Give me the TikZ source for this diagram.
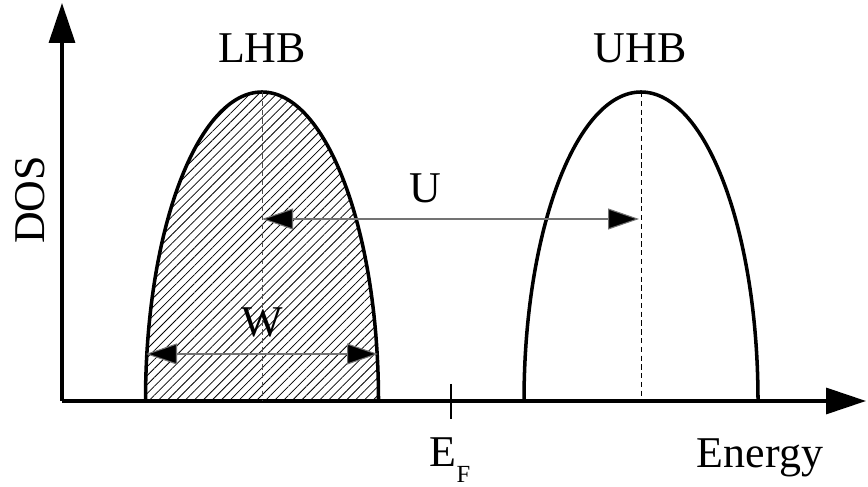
\documentclass[tikz,border=0pt]{standalone}
\usepackage{fontspec}
\setmainfont{Liberation Serif}
\usepackage{tikz}
\usetikzlibrary{arrows.meta, patterns.meta, positioning, calc}

\tikzset{
    axisline/.style={line width=1.9pt, -{Triangle[length=0.8cm, width=0.52cm]}},
    bandline/.style={line width=2pt},
    centerline/.style={line width=0.5pt, dash pattern=on 3pt off 2pt},
    widtharrow/.style={line width=0.6pt, draw=black!55, {Triangle[length=0.62cm, width=0.42cm, fill=black]}-{Triangle[length=0.62cm, width=0.42cm, fill=black]}},
    lbl/.style={font=\fontsize{25}{30}\selectfont, inner sep=0pt}
}

\begin{document}
\begin{tikzpicture}
    \useasboundingbox (-1.24,-1.72) rectangle (16.12,8.02);

    % axes
    \coordinate (O) at (0,0);
    \coordinate (ytop) at (0,7.96);
    \coordinate (xend) at (16.08,0);
    \draw[axisline] (O) -- (ytop);
    \draw[axisline] (O) -- (xend);

    % band positions
    \coordinate (lhbL) at (1.67,0);
    \coordinate (lhbC) at (4.0,0);
    \coordinate (lhbTop) at (4.0,6.18);
    \coordinate (uhbL) at (9.24,0);
    \coordinate (uhbC) at (11.58,0);
    \coordinate (uhbTop) at (11.58,6.18);

    % Lower Hubbard band (filled)
    \fill[pattern={Lines[angle=45, distance=3.6pt, line width=0.45pt]}]
        (lhbL) arc[start angle=180, end angle=0, x radius=2.33, y radius=6.18] -- cycle;
    \draw[bandline] (lhbL) arc[start angle=180, end angle=0, x radius=2.33, y radius=6.18];
    \draw[centerline, draw=black!70] (lhbTop) -- (lhbC);

    % Upper Hubbard band (empty)
    \draw[bandline] (uhbL) arc[start angle=180, end angle=0, x radius=2.34, y radius=6.18];
    \draw[centerline] (uhbTop) -- (uhbC);

    % U and W
    \coordinate (uL) at (4.0,3.64);
    \coordinate (uR) at (11.54,3.64);
    \draw[widtharrow] (uL) -- (uR);
    \node[lbl] (ulabel) at (7.26,4.26) {U};

    \coordinate (wL) at (1.68,0.94);
    \coordinate (wR) at (6.32,0.94);
    \draw[widtharrow] (wL) -- (wR);
    \node[lbl] (wlabel) at (4.0,1.58) {W};

    % Fermi level
    \coordinate (efTop) at (7.78,0.34);
    \coordinate (efBot) at (7.78,-0.36);
    \draw[line width=0.6pt] (efTop) -- (efBot);
    \node[lbl] (eflabel) at (7.76,-1.18) {E\raisebox{-0.35em}{\fontsize{14}{14}\selectfont F}};

    % labels
    \node[lbl] (lhb) at (4.0,7.06) {LHB};
    \node[lbl] (uhb) at (11.56,7.06) {UHB};
    \node[lbl, rotate=90] (dos) at (-0.64,4.02) {DOS};
    \node[lbl] (energy) at (13.96,-1.14) {Energy};
\end{tikzpicture}
\end{document}
